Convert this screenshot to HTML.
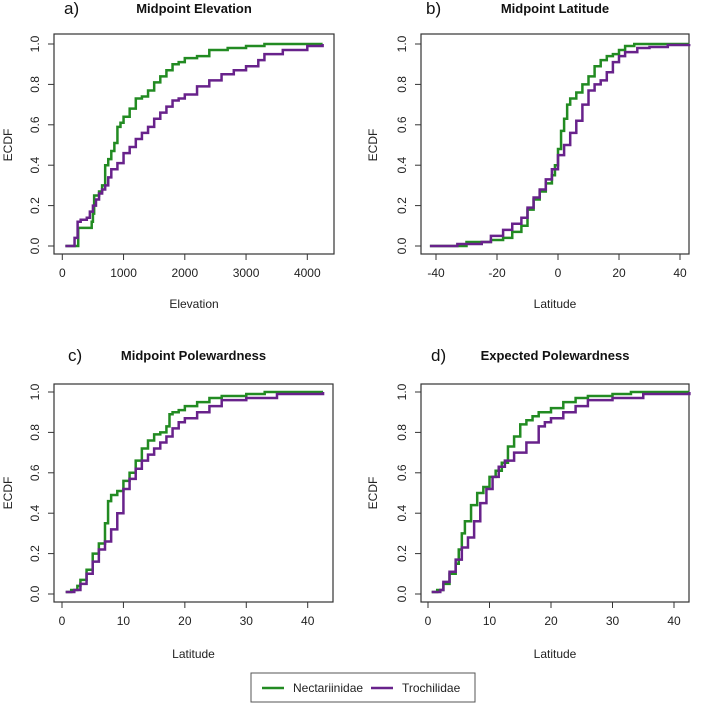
<!DOCTYPE html>
<html><head><meta charset="utf-8"><style>
body{margin:0;background:#fff;}
svg{display:block;font-family:"Liberation Sans",Arial,sans-serif;}
</style></head><body>
<svg id="fig" width="701" height="704" viewBox="0 0 701 704">
<g>
<rect x="251" y="673" width="224" height="29" fill="#fff" stroke="#555" stroke-width="1"/>
<line x1="262" y1="688" x2="284" y2="688" stroke="#228B22" stroke-width="2.5"/>
<text x="293" y="692" font-size="12" fill="#222">Nectariinidae</text>
<line x1="371" y1="688" x2="393" y2="688" stroke="#68228B" stroke-width="2.5"/>
<text x="402" y="692" font-size="12" fill="#222">Trochilidae</text>
</g>
</svg>
<script>
// Panel a: Midpoint Elevation
const aGreenX=[50,250,260,400,480,500,520,600,650,700,750,800,850,900,950,1000,1100,1200,1300,1400,1500,1600,1700,1800,1900,2000,2200,2400,2700,3000,3300,4250];
const aGreenY=[0,0,0.09,0.09,0.12,0.16,0.25,0.27,0.30,0.40,0.43,0.47,0.51,0.59,0.61,0.64,0.68,0.73,0.74,0.77,0.81,0.84,0.87,0.90,0.91,0.93,0.94,0.97,0.98,0.99,1.0,1.0];
const aPurpX=[50,200,250,300,400,450,500,550,600,650,700,750,800,900,1000,1100,1200,1300,1400,1500,1600,1700,1800,1900,2000,2200,2400,2600,2800,3000,3200,3300,3600,4000,4250];
const aPurpY=[0,0.04,0.12,0.13,0.14,0.17,0.20,0.23,0.26,0.28,0.30,0.34,0.38,0.41,0.46,0.49,0.53,0.56,0.59,0.63,0.66,0.69,0.72,0.73,0.75,0.79,0.82,0.85,0.87,0.89,0.92,0.95,0.97,0.99,1.0];
const aXTicks=[0,1000,2000,3000,4000];
// Panel b: Midpoint Latitude
const bGreenX=[-42,-30,-25,-22,-18,-15,-12,-10,-8,-6,-4,-2,-1,0,1,2,3,4,6,8,10,12,14,16,18,20,22,25,43];
const bGreenY=[0,0.02,0.02,0.03,0.04,0.07,0.10,0.18,0.23,0.27,0.31,0.35,0.40,0.48,0.57,0.63,0.70,0.73,0.76,0.80,0.84,0.89,0.92,0.94,0.95,0.97,0.99,1.0,1.0];
const bPurpX=[-42,-33,-25,-22,-18,-15,-12,-10,-8,-6,-4,-2,0,2,4,6,8,10,12,14,16,18,20,22,26,30,36,43];
const bPurpY=[0,0.01,0.02,0.05,0.08,0.11,0.14,0.19,0.24,0.28,0.33,0.38,0.45,0.50,0.56,0.62,0.70,0.77,0.80,0.82,0.86,0.91,0.94,0.96,0.98,0.985,0.995,1.0];
const bXTicks=[-40,-20,0,20,40];
// Panel c: Midpoint Polewardness
const cGreenX=[0.6,1.5,2.5,3,4,5,6,7,7.5,8,9,10,11,12,13,14,15,16,17,17.5,18,19,20,22,24,26,30,33,42.5];
const cGreenY=[0.01,0.02,0.04,0.07,0.12,0.20,0.25,0.35,0.46,0.49,0.51,0.56,0.60,0.66,0.72,0.76,0.79,0.80,0.83,0.89,0.90,0.91,0.93,0.95,0.97,0.98,0.99,1.0,1.0];
const cPurpX=[0.6,2,3,4,5,6,7,8,9,10,11,12,13,14,15,16,17,18,19,20,22,24,26,30,35,42.5];
const cPurpY=[0.01,0.02,0.05,0.10,0.16,0.22,0.26,0.32,0.40,0.52,0.57,0.62,0.66,0.69,0.72,0.75,0.78,0.82,0.85,0.87,0.90,0.93,0.96,0.97,0.99,1.0];
const cXTicks=[0,10,20,30,40];
// Panel d: Expected Polewardness
const dGreenX=[0.6,1.5,2.5,3.5,4.5,5,5.5,6,7,8,9,10,11,12,13,14,15,16,17,18,20,22,24,26,30,33,42.5];
const dGreenY=[0.01,0.02,0.05,0.10,0.15,0.22,0.30,0.36,0.44,0.50,0.53,0.58,0.61,0.65,0.73,0.78,0.84,0.86,0.88,0.90,0.92,0.95,0.97,0.98,0.99,1.0,1.0];
const dPurpX=[0.6,2,2.5,3.5,4.5,5.5,6.5,7.5,8.5,9.5,10.5,11.5,12.5,14,16,18,19,20,22,24,26,30,35,42.5];
const dPurpY=[0.01,0.02,0.06,0.11,0.17,0.23,0.28,0.36,0.45,0.52,0.58,0.63,0.66,0.70,0.75,0.83,0.85,0.87,0.90,0.93,0.96,0.97,0.99,1.0];
const dXTicks=[0,10,20,30,40];
const yTicks=[0,0.2,0.4,0.6,0.8,1.0];

const NS="http://www.w3.org/2000/svg";
const svg=document.getElementById('fig');
function mk(tag,attrs,parent){const e=document.createElementNS(NS,tag);for(const k in attrs)e.setAttribute(k,attrs[k]);(parent||svg).appendChild(e);return e;}

function panel(id,letter,title,xlabel,box,x0,x1,px0,px1,y0px,y1px,ticks,gx,gy,px,py,letterX,titleY,xlabY,ylabX){
  const g=mk('g',{});
  
  
  const sx=v=>px0+(v-x0)/(x1-x0)*(px1-px0);
  const sy=v=>y0px+(y1px-y0px)*v;
  const r=mk('rect',{x:box[0],y:box[1],width:box[2]-box[0],height:box[3]-box[1],fill:'none',stroke:'#333','stroke-width':1.2},g);
  
  
  const lt=mk('text',{x:letterX,y:titleY+5,'font-size':17,fill:'#111'},g);lt.textContent=letter;
  
  
  const tt=mk('text',{x:(box[0]+box[2])/2,y:titleY+4,'font-size':13,'font-weight':'bold','text-anchor':'middle',fill:'#111'},g);tt.textContent=title;
  
  
  const ax=mk('line',{x1:sx(ticks[0]),x2:sx(ticks[ticks.length-1]),y1:box[3],y2:box[3],stroke:'#333'},g);
  
  
  ticks.forEach(t=>{
    const l=mk('line',{x1:sx(t),x2:sx(t),y1:box[3],y2:box[3]+6,stroke:'#333'},g);
    
    
    const tx=mk('text',{x:sx(t),y:box[3]+23,'font-size':12,'text-anchor':'middle',fill:'#222'},g);tx.textContent=t;
    
    
  });
  const xl=mk('text',{x:(box[0]+box[2])/2,y:xlabY,'font-size':12,'text-anchor':'middle',fill:'#222'},g);xl.textContent=xlabel;
  
  
  const ay=mk('line',{x1:box[0],x2:box[0],y1:sy(0),y2:sy(1),stroke:'#333'},g);
  
  
  yTicks.forEach(t=>{
    const l=mk('line',{x1:box[0]-6,x2:box[0],y1:sy(t),y2:sy(t),stroke:'#333'},g);
    
    
    const bx=box[0]-15;
    const tx=mk('text',{x:bx,y:sy(t),'font-size':12,'text-anchor':'middle',fill:'#222',transform:`rotate(-90 ${bx} ${sy(t)})`},g);tx.textContent=t.toFixed(1);
    
    
  });
  const yl=mk('text',{x:ylabX,y:(sy(0)+sy(1))/2,'font-size':12,'text-anchor':'middle',fill:'#222',transform:`rotate(-90 ${ylabX} ${(sy(0)+sy(1))/2})`},g);yl.textContent='ECDF';
  
  
  function step(xs,ys,col,name){
    let d=`M${sx(xs[0])},${sy(ys[0])}`;
    for(let i=1;i<xs.length;i++){d+=`H${sx(xs[i])}V${sy(ys[i])}`;}
    const p=mk('path',{d:d,fill:'none',stroke:col,'stroke-width':2.5},g);
    
    
  }
  step(gx,gy,'#228B22','ecdf-line-nectariinidae');
  step(px,py,'#68228B','ecdf-line-trochilidae');
}
panel('a','a)','Midpoint Elevation','Elevation',[54,34,334,254],0,4000,62.3,307.3,246,44,aXTicks,aGreenX,aGreenY,aPurpX,aPurpY,64,9,308,12);
panel('b','b)','Midpoint Latitude','Latitude',[421,34,689,254],-40,40,436,680,246,44,bXTicks,bGreenX,bGreenY,bPurpX,bPurpY,426,9,308,377);
panel('c','c)','Midpoint Polewardness','Latitude',[54,384,333,602],0,40,62,307.7,594,392,cXTicks,cGreenX,cGreenY,cPurpX,cPurpY,68,356,658,12);
panel('d','d)','Expected Polewardness','Latitude',[421,384,689,602],0,40,428,674,594,392,dXTicks,dGreenX,dGreenY,dPurpX,dPurpY,431,356,658,377);
</script>
</body></html>
